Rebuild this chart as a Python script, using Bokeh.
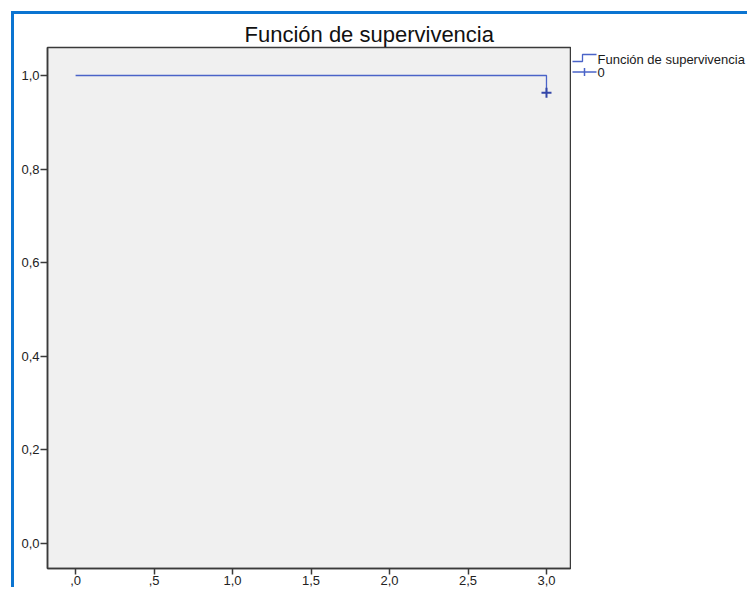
from bokeh.plotting import figure
from bokeh.layouts import row
from bokeh.models import Range1d, FixedTicker
from bokeh.core.properties import value
from bokeh.embed import file_html
from bokeh.resources import INLINE

# ---- data ----
times = [0.0, 3.0]
survival = [1.0, 0.963]
censor_times = [3.0]
censor_survival = [0.963]
x_ticks = [0.0, 0.5, 1.0, 1.5, 2.0, 2.5, 3.0]
x_tick_labels = [",0", ",5", "1,0", "1,5", "2,0", "2,5", "3,0"]
y_ticks = [0.0, 0.2, 0.4, 0.6, 0.8, 1.0]
y_tick_labels = ["0,0", "0,2", "0,4", "0,6", "0,8", "1,0"]
title_text = "Función de supervivencia"
legend_labels = ["Función de supervivencia", "0"]

FONT = "Liberation Sans"
LINE_COLOR = "#4a63c8"
MARK_COLOR = "#3346a8"

p = figure(width=557, height=573, output_backend="svg", toolbar_location=None,
           x_range=Range1d(-0.179, 3.153), y_range=Range1d(-0.0535, 1.0598),
           min_border_left=33, min_border_right=1, min_border_top=33, min_border_bottom=10)
p.background_fill_color = "#f0f0f0"
p.border_fill_color = "white"
p.outline_line_color = "#3a3a3a"
p.outline_line_width = 1.5
p.grid.visible = False

p.title.text = title_text
p.title.text_font = FONT
p.title.text_font_size = "22px"
p.title.text_font_style = "normal"
p.title.text_color = "#111111"
p.title.align = "left"
p.title.offset = 197
p.title.standoff = 2

for ax in (p.xaxis[0], p.yaxis[0]):
    ax.major_label_text_font = FONT
    ax.major_label_text_font_size = "13px"
    ax.major_label_text_color = "#222222"
    ax.axis_line_color = "#3a3a3a"
    ax.axis_line_width = 1.5
    ax.major_tick_line_color = "#3a3a3a"
    ax.major_tick_line_width = 1.5
    ax.major_tick_in = 0
    ax.minor_tick_line_color = None

p.xaxis.ticker = FixedTicker(ticks=x_ticks)
p.xaxis.major_label_overrides = dict(zip(x_ticks, x_tick_labels))
p.xaxis.major_tick_out = 6
p.xaxis.major_label_standoff = 1
p.yaxis.ticker = FixedTicker(ticks=y_ticks)
p.yaxis.major_label_overrides = dict(zip(y_ticks, y_tick_labels))
p.yaxis.major_tick_out = 7
p.yaxis.major_label_standoff = 1

p.step(times, survival, mode="after", line_color=LINE_COLOR, line_width=1.3)
p.scatter(censor_times, censor_survival, marker="cross", size=10,
          line_color=MARK_COLOR, line_width=2)

# ---- legend panel (pixel coordinates from its frame top, y downwards) ----
leg = figure(width=176, height=573, output_backend="svg", toolbar_location=None,
             title=None, x_axis_location=None, y_axis_location=None,
             x_range=Range1d(0, 176), y_range=Range1d(521, 0),
             min_border=0, outline_line_color=None)
leg.grid.visible = False
leg.background_fill_color = "white"
leg.border_fill_color = "white"

leg.line([1, 11, 11, 25], [14, 14, 7, 7], line_color=LINE_COLOR, line_width=1.3)
leg.line([1, 25], [24.5, 24.5], line_color=LINE_COLOR, line_width=1.3)
leg.line([13, 13], [20.5, 28.5], line_color=LINE_COLOR, line_width=1.5)
leg.text([26, 26], [12, 25], text=legend_labels, text_font=value(FONT),
         text_font_size="13px", text_baseline="middle", text_align="left",
         text_color="#1a1a1a")

layout = row(p, leg, styles={"margin-left": "11px", "margin-top": "11px",
                             "border-left": "3px solid #0b74d1",
                             "border-top": "3px solid #0b74d1"})

open("out.html", "w").write(file_html(layout, INLINE))
